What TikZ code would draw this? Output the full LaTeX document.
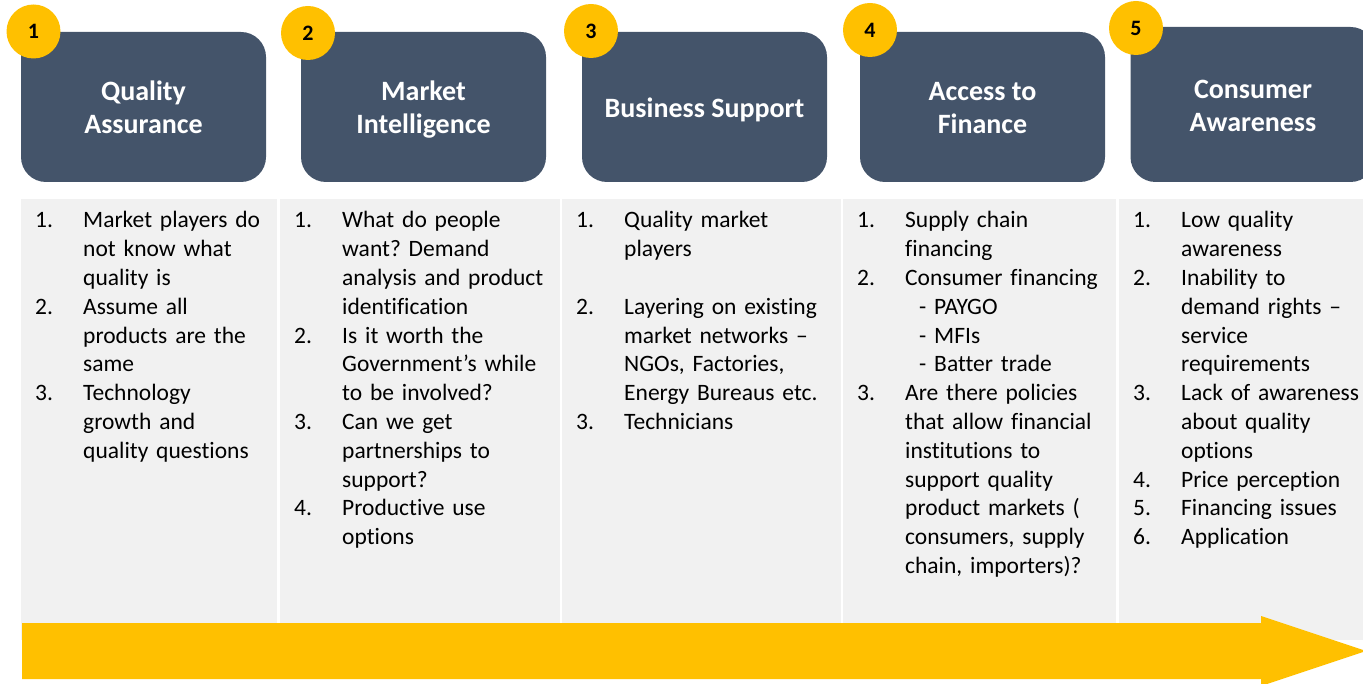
\documentclass[tikz,border=0pt]{standalone}
\usepackage{fontspec}
\setmainfont[Ligatures=NoCommon]{Carlito}
\definecolor{slate}{HTML}{44546A}
\definecolor{amber}{HTML}{FFC000}
\definecolor{panelgray}{HTML}{F1F1F1}
\newcommand{\itm}[2]{\hyphenpenalty=10000\relax\noindent\hangindent=48pt\hangafter=1\makebox[48pt][l]{#1}{\let\\\newline #2}\par}
\newcommand{\hs}{\rule[-6pt]{0pt}{33pt}}
\begin{document}
\begin{tikzpicture}[x=1pt, y=-1pt,
    hdr/.style={rectangle, rounded corners=25pt, fill=slate, text=white, minimum width=245pt, minimum height=150pt, align=center, font=\fontsize{28}{33}\selectfont\bfseries},
    badge/.style={circle, fill=amber, minimum size=54pt, inner sep=0pt, font=\fontsize{22}{26}\selectfont\bfseries},
    panel/.style={fill=panelgray},
    body/.style={anchor=base west, inner sep=0pt, text width=290pt, align=left, font=\fontsize{23.5}{28.8}\selectfont\frenchspacing}]
                \clip (0,0) rectangle (1363,684);
                \useasboundingbox (0,0) rectangle (1363,684);

                % Panels
                \fill[panel] (21,199) rectangle (277,640);
                \fill[panel] (280,199) rectangle (560,640);
                \fill[panel] (562,199) rectangle (841,640);
                \fill[panel] (843,199) rectangle (1116,640);
                \fill[panel] (1119,199) rectangle (1363,640);

                % Nodes
                \node[hdr] at (143.5, 107)  (qa)    {\hs Quality\\\hs Assurance};
                \node[hdr] at (423.5, 107)  (mi)    {\hs Market\\\hs Intelligence};
                \node[hdr] at (704.5, 107)  (bs)    {\hs Business Support};
                \node[hdr] at (982.5, 107)  (af)    {\hs Access to\\\hs Finance};
                \node[hdr, minimum height=155pt] at (1253, 104.5)  (ca)    {\hs Consumer\\\hs Awareness};

                \node[badge] at (33.5, 31.5)  (n1)    {1};
                \node[badge] at (308, 33)  (n2)    {2};
                \node[badge] at (591, 31)  (n3)    {3};
                \node[badge] at (870, 30)  (n4)    {4};
                \node[badge] at (1136, 28)  (n5)    {5};

                % Lists
                \node[body] at (35, 228)  (qalist)    {%
                    \itm{1.}{Market players do\\not know what\\quality is}
                    \itm{2.}{Assume all\\products are the\\same}
                    \itm{3.}{Technology\\growth and\\quality questions}};
                \node[body] at (294, 228)  (milist)    {%
                    \itm{1.}{What do people\\want? Demand\\analysis and product\\identification}
                    \itm{2.}{Is it worth the\\Government’s while\\to be involved?}
                    \itm{3.}{Can we get\\partnerships to\\support?}
                    \itm{4.}{Productive use\\options}};
                \node[body] at (576, 228)  (bslist)    {%
                    \itm{1.}{Quality market\\players\\\mbox{}}
                    \itm{2.}{Layering on existing\\market networks –\\NGOs, Factories,\\Energy Bureaus etc.}
                    \itm{3.}{Technicians}};
                \node[body] at (857, 228)  (aflist)    {%
                    \itm{1.}{Supply chain\\financing}
                    \itm{2.}{Consumer financing\\\hspace*{14pt}- PAYGO\\\hspace*{14pt}- MFIs\\\hspace*{14pt}- Batter trade}
                    \itm{3.}{Are there policies\\that allow financial\\institutions to\\support quality\\product markets (\\consumers, supply\\chain, importers)?}};
                \node[body] at (1133, 228)  (calist)    {%
                    \itm{1.}{Low quality\\awareness}
                    \itm{2.}{Inability to\\demand rights –\\service\\requirements}
                    \itm{3.}{Lack of awareness\\about quality\\options}
                    \itm{4.}{Price perception}
                    \itm{5.}{Financing issues}
                    \itm{6.}{Application}};

                % Arrow
                \fill[amber] (22,623) -- (1261,623) -- (1261,616) -- (1366,651)
                    -- (1261,686) -- (1261,679) -- (22,679) -- cycle;
            \end{tikzpicture}
\end{document}
